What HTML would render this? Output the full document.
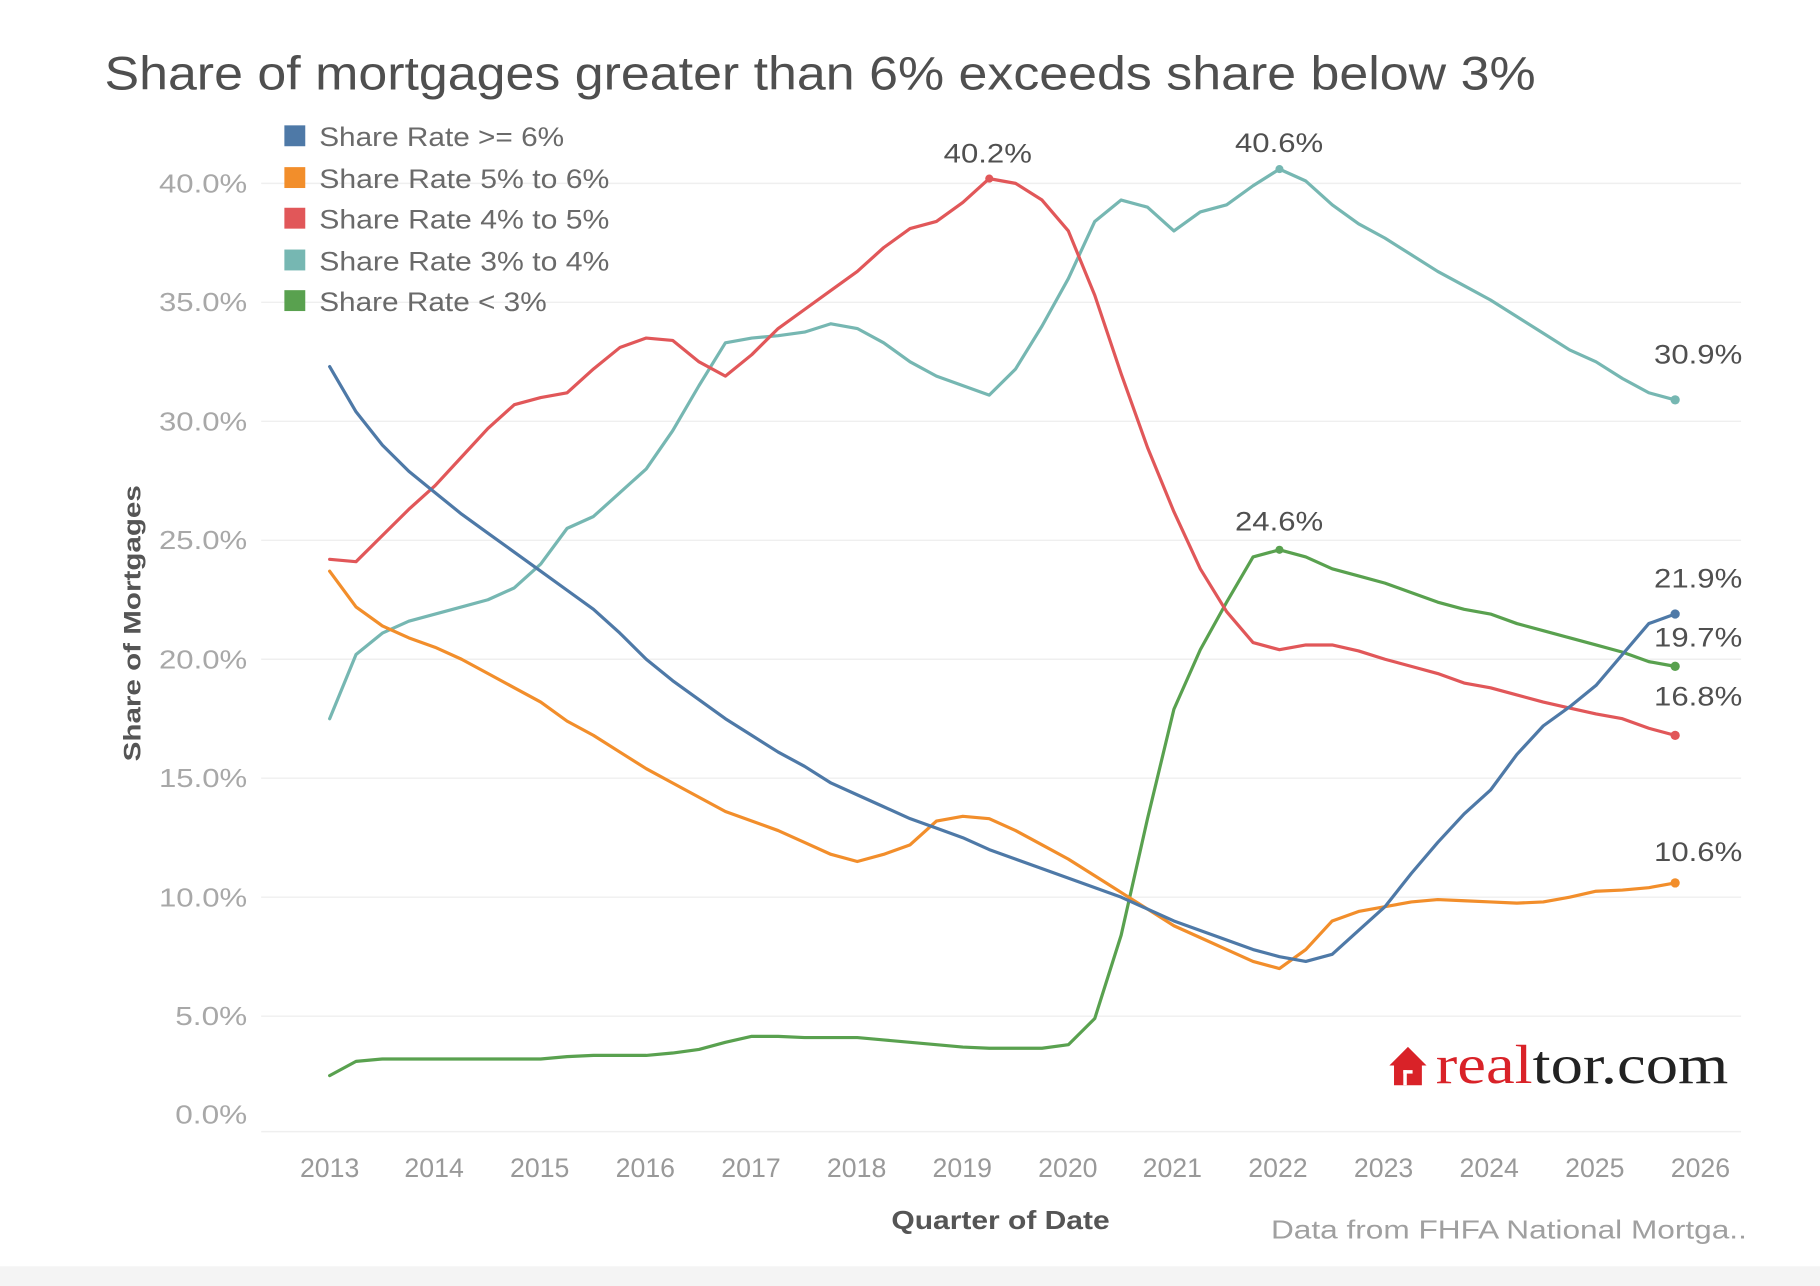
<!DOCTYPE html>
<html>
<head>
<meta charset="utf-8">
<style>
  html,body{margin:0;padding:0;background:#fff;}
  svg{display:block;}
  text{font-family:"Liberation Sans",sans-serif;}
</style>
</head>
<body>
<svg width="1820" height="1286" viewBox="0 0 1568 1108" preserveAspectRatio="none" xmlns="http://www.w3.org/2000/svg">
  <rect x="0" y="0" width="1568" height="1108" fill="#ffffff"/>
  <rect x="0" y="1091" width="1568" height="17" fill="#f4f4f4"/>

  <!-- Title -->
  <text x="90" y="77" font-size="41" fill="#4f4f4f" textLength="1233" lengthAdjust="spacingAndGlyphs">Share of mortgages greater than  6% exceeds share below 3%</text>

  <!-- gridlines -->
  <g stroke="#efefef" stroke-width="1.2">
    <line x1="225" y1="158" x2="1500" y2="158"/>
    <line x1="225" y1="260.5" x2="1500" y2="260.5"/>
    <line x1="225" y1="363" x2="1500" y2="363"/>
    <line x1="225" y1="465.5" x2="1500" y2="465.5"/>
    <line x1="225" y1="568" x2="1500" y2="568"/>
    <line x1="225" y1="670.5" x2="1500" y2="670.5"/>
    <line x1="225" y1="773" x2="1500" y2="773"/>
    <line x1="225" y1="875.5" x2="1500" y2="875.5"/>
    <line x1="225" y1="975" x2="1500" y2="975"/>
  </g>

  <!-- Y tick labels -->
  <g font-size="22" fill="#a8a8a8" text-anchor="end">
    <text x="213" y="166" textLength="76" lengthAdjust="spacingAndGlyphs">40.0%</text>
    <text x="213" y="268" textLength="76" lengthAdjust="spacingAndGlyphs">35.0%</text>
    <text x="213" y="371" textLength="76" lengthAdjust="spacingAndGlyphs">30.0%</text>
    <text x="213" y="473" textLength="76" lengthAdjust="spacingAndGlyphs">25.0%</text>
    <text x="213" y="576" textLength="76" lengthAdjust="spacingAndGlyphs">20.0%</text>
    <text x="213" y="678" textLength="76" lengthAdjust="spacingAndGlyphs">15.0%</text>
    <text x="213" y="781" textLength="76" lengthAdjust="spacingAndGlyphs">10.0%</text>
    <text x="213" y="883" textLength="62" lengthAdjust="spacingAndGlyphs">5.0%</text>
    <text x="213" y="968" textLength="62" lengthAdjust="spacingAndGlyphs">0.0%</text>
  </g>

  <!-- Y axis title -->
  <text transform="translate(121,537) rotate(-90)" font-size="21" font-weight="bold" fill="#555" text-anchor="middle" textLength="238" lengthAdjust="spacingAndGlyphs">Share of Mortgages</text>

  <!-- X tick labels -->
  <g font-size="23" fill="#999" text-anchor="middle">
    <text x="284" y="1014">2013</text>
    <text x="374" y="1014">2014</text>
    <text x="465" y="1014">2015</text>
    <text x="556" y="1014">2016</text>
    <text x="647" y="1014">2017</text>
    <text x="738" y="1014">2018</text>
    <text x="829" y="1014">2019</text>
    <text x="920" y="1014">2020</text>
    <text x="1010" y="1014">2021</text>
    <text x="1101" y="1014">2022</text>
    <text x="1192" y="1014">2023</text>
    <text x="1283" y="1014">2024</text>
    <text x="1374" y="1014">2025</text>
    <text x="1465" y="1014">2026</text>
  </g>

  <!-- X axis title -->
  <text x="862" y="1059" font-size="22" font-weight="bold" fill="#555" text-anchor="middle" textLength="188" lengthAdjust="spacingAndGlyphs">Quarter of Date</text>
  <text x="1095" y="1067" font-size="22" fill="#a0a0a0" textLength="410" lengthAdjust="spacingAndGlyphs">Data from FHFA National Mortga..</text>

  <!-- Legend -->
  <rect x="245" y="108" width="18" height="18" fill="#4e79a7"/>
  <rect x="245" y="144" width="18" height="18" fill="#f28e2b"/>
  <rect x="245" y="179" width="18" height="18" fill="#e15759"/>
  <rect x="245" y="215" width="18" height="18" fill="#76b7b2"/>
  <rect x="245" y="250" width="18" height="18" fill="#59a14f"/>
  <g font-size="23" fill="#6a6a6a">
    <text x="275" y="126" textLength="211" lengthAdjust="spacingAndGlyphs">Share Rate &gt;= 6%</text>
    <text x="275" y="162" textLength="250" lengthAdjust="spacingAndGlyphs">Share Rate 5% to 6%</text>
    <text x="275" y="197" textLength="250" lengthAdjust="spacingAndGlyphs">Share Rate 4% to 5%</text>
    <text x="275" y="233" textLength="250" lengthAdjust="spacingAndGlyphs">Share Rate 3% to 4%</text>
    <text x="275" y="268" textLength="196" lengthAdjust="spacingAndGlyphs">Share Rate &lt; 3%</text>
  </g>

  <!-- Series -->
  <g transform="translate(284,978) scale(22.73,-20.5)" fill="none" stroke-width="3.2" stroke-linejoin="round" stroke-linecap="round">
    <polyline vector-effect="non-scaling-stroke" stroke="#59a14f" points="0,2.5 1,3.1 2,3.2 3,3.2 4,3.2 5,3.2 6,3.2 7,3.2 8,3.2 9,3.3 10,3.35 11,3.35 12,3.35 13,3.45 14,3.6 15,3.9 16,4.15 17,4.15 18,4.1 19,4.1 20,4.1 21,4.0 22,3.9 23,3.8 24,3.7 25,3.65 26,3.65 27,3.65 28,3.8 29,4.9 30,8.4 31,13.3 32,17.9 33,20.4 34,22.4 35,24.3 36,24.6 37,24.3 38,23.8 39,23.5 40,23.2 41,22.8 42,22.4 43,22.1 44,21.9 45,21.5 46,21.2 47,20.9 48,20.6 49,20.3 50,19.9 51,19.7"/>
    <polyline vector-effect="non-scaling-stroke" stroke="#76b7b2" points="0,17.5 1,20.2 2,21.1 3,21.6 4,21.9 5,22.2 6,22.5 7,23.0 8,24.0 9,25.5 10,26.0 11,27.0 12,28.0 13,29.6 14,31.5 15,33.3 16,33.5 17,33.6 18,33.75 19,34.1 20,33.9 21,33.3 22,32.5 23,31.9 24,31.5 25,31.1 26,32.2 27,34.0 28,36.0 29,38.4 30,39.3 31,39.0 32,38.0 33,38.8 34,39.1 35,39.9 36,40.6 37,40.1 38,39.1 39,38.3 40,37.7 41,37.0 42,36.3 43,35.7 44,35.1 45,34.4 46,33.7 47,33.0 48,32.5 49,31.8 50,31.2 51,30.9"/>
    <polyline vector-effect="non-scaling-stroke" stroke="#e15759" points="0,24.2 1,24.1 2,25.2 3,26.3 4,27.3 5,28.5 6,29.7 7,30.7 8,31.0 9,31.2 10,32.2 11,33.1 12,33.5 13,33.4 14,32.5 15,31.9 16,32.8 17,33.9 18,34.7 19,35.5 20,36.3 21,37.3 22,38.1 23,38.4 24,39.2 25,40.2 26,40.0 27,39.3 28,38.0 29,35.3 30,32.0 31,28.9 32,26.2 33,23.8 34,22.0 35,20.7 36,20.4 37,20.6 38,20.6 39,20.35 40,20.0 41,19.7 42,19.4 43,19.0 44,18.8 45,18.5 46,18.2 47,17.95 48,17.7 49,17.5 50,17.1 51,16.8"/>
    <polyline vector-effect="non-scaling-stroke" stroke="#f28e2b" points="0,23.7 1,22.2 2,21.4 3,20.9 4,20.5 5,20.0 6,19.4 7,18.8 8,18.2 9,17.4 10,16.8 11,16.1 12,15.4 13,14.8 14,14.2 15,13.6 16,13.2 17,12.8 18,12.3 19,11.8 20,11.5 21,11.8 22,12.2 23,13.2 24,13.4 25,13.3 26,12.8 27,12.2 28,11.6 29,10.9 30,10.2 31,9.5 32,8.8 33,8.3 34,7.8 35,7.3 36,7.0 37,7.8 38,9.0 39,9.4 40,9.6 41,9.8 42,9.9 43,9.85 44,9.8 45,9.75 46,9.8 47,10.0 48,10.25 49,10.3 50,10.4 51,10.6"/>
    <polyline vector-effect="non-scaling-stroke" stroke="#4e79a7" points="0,32.3 1,30.4 2,29.0 3,27.9 4,27.0 5,26.1 6,25.3 7,24.5 8,23.7 9,22.9 10,22.1 11,21.1 12,20.0 13,19.1 14,18.3 15,17.5 16,16.8 17,16.1 18,15.5 19,14.8 20,14.3 21,13.8 22,13.3 23,12.9 24,12.5 25,12.0 26,11.6 27,11.2 28,10.8 29,10.4 30,10.0 31,9.5 32,9.0 33,8.6 34,8.2 35,7.8 36,7.5 37,7.3 38,7.6 39,8.6 40,9.6 41,11.0 42,12.3 43,13.5 44,14.5 45,16.0 46,17.2 47,18.0 48,18.9 49,20.2 50,21.5 51,21.9"/>
  </g>

  <!-- Markers -->
  <circle cx="1443.2" cy="529" r="4" fill="#4e79a7"/>
  <circle cx="1443.2" cy="760.7" r="4" fill="#f28e2b"/>
  <circle cx="1443.2" cy="633.6" r="4" fill="#e15759"/>
  <circle cx="1443.2" cy="344.5" r="4" fill="#76b7b2"/>
  <circle cx="1443.2" cy="574.1" r="4" fill="#59a14f"/>
  <circle cx="852.3" cy="153.9" r="3.5" fill="#e15759"/>
  <circle cx="1102.3" cy="145.7" r="3.5" fill="#76b7b2"/>
  <circle cx="1102.3" cy="473.7" r="3.5" fill="#59a14f"/>

  <!-- Data labels -->
  <g font-size="23" fill="#505050">
    <text x="851" y="140" text-anchor="middle" textLength="76" lengthAdjust="spacingAndGlyphs">40.2%</text>
    <text x="1102" y="131" text-anchor="middle" textLength="76" lengthAdjust="spacingAndGlyphs">40.6%</text>
    <text x="1463" y="313" text-anchor="middle" textLength="76" lengthAdjust="spacingAndGlyphs">30.9%</text>
    <text x="1102" y="457" text-anchor="middle" textLength="76" lengthAdjust="spacingAndGlyphs">24.6%</text>
    <text x="1463" y="506" text-anchor="middle" textLength="76" lengthAdjust="spacingAndGlyphs">21.9%</text>
    <text x="1463" y="557" text-anchor="middle" textLength="76" lengthAdjust="spacingAndGlyphs">19.7%</text>
    <text x="1463" y="608" text-anchor="middle" textLength="76" lengthAdjust="spacingAndGlyphs">16.8%</text>
    <text x="1463" y="742" text-anchor="middle" textLength="76" lengthAdjust="spacingAndGlyphs">10.6%</text>
  </g>

  <!-- realtor.com logo -->
  <g>
    <polygon points="1213,902 1229,918 1225,918 1225,935 1201,935 1201,918 1197,918" fill="#d92228"/>
    <rect x="1209" y="922" width="3" height="13" fill="#ffffff"/>
    <rect x="1209" y="922" width="8" height="3" fill="#ffffff"/>
    <text x="1237" y="933" font-size="47" textLength="252" lengthAdjust="spacingAndGlyphs" style="font-family:'Liberation Serif',serif"><tspan fill="#d92228">real</tspan><tspan fill="#222222">tor.com</tspan></text>
  </g>
</svg>
</body>
</html>
